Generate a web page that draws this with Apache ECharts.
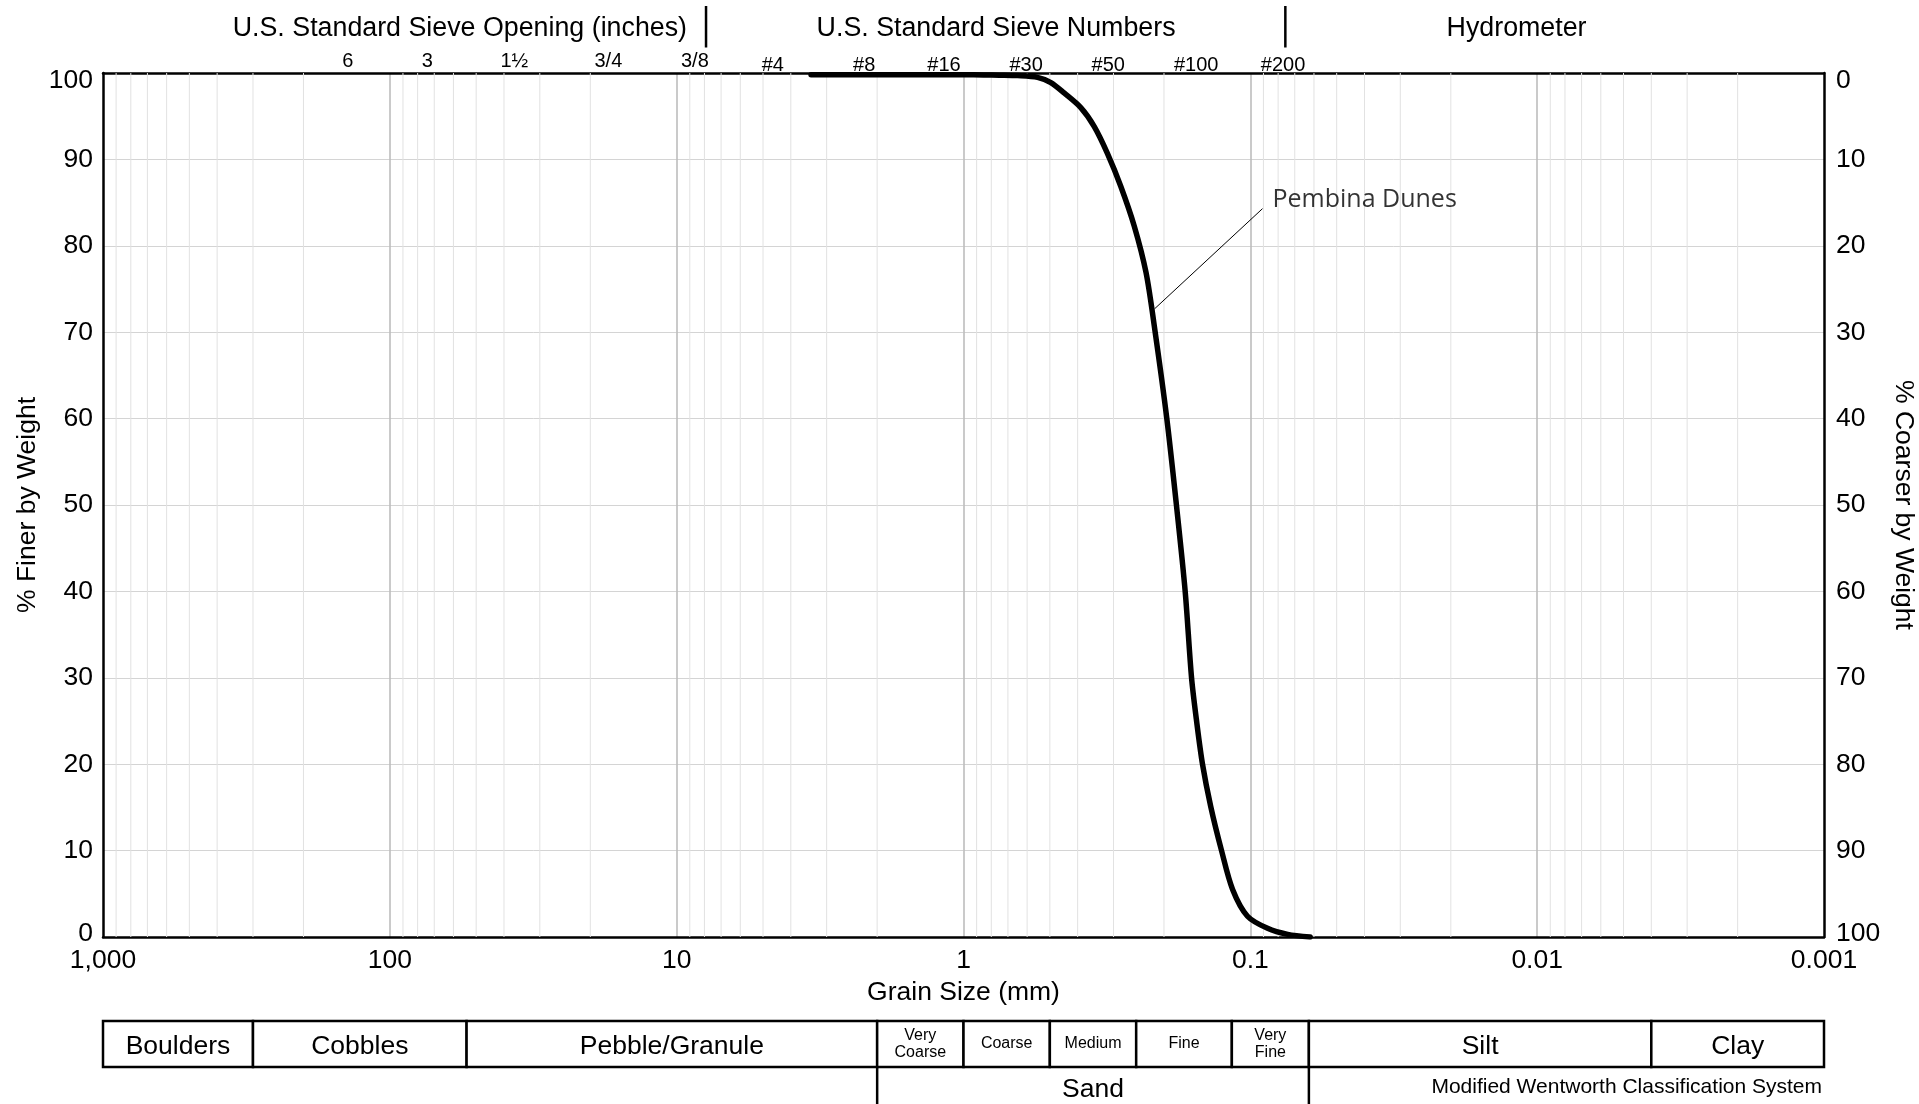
<!DOCTYPE html>
<html><head><meta charset="utf-8">
<script src="https://cdn.jsdelivr.net/npm/echarts@6/dist/echarts.min.js"></script>
<style>html,body{margin:0;padding:0;background:#fff}#c{width:1919px;height:1104px}</style>
</head><body><div id="c"></div>
<script>
// ---- data ----
const grainSizeMm = [3.4, 1.5, 1.0, 0.85, 0.75, 0.648, 0.552, 0.496, 0.446, 0.39, 0.35, 0.315, 0.283, 0.254, 0.231, 0.2153, 0.1955, 0.181, 0.1687, 0.1603, 0.1537, 0.1468, 0.1374, 0.126, 0.1153, 0.1023, 0.0871, 0.0741, 0.0619];
const percentFiner = [99.8, 99.8, 99.8, 99.78, 99.75, 99.7, 99.5, 98.9, 97.7, 96.0, 93.8, 90.7, 86.9, 82.3, 76.9, 70.3, 60, 50, 40, 30, 24.8, 20, 15.1, 10, 5.5, 2.4, 1.0, 0.3, 0];
const seriesName = 'Pembina Dunes';
const leaderLineMm = [0.0907, 0.2158];
const leaderLinePct = [84.3, 72.7];

const xTickLabels = ['1,000', '100', '10', '1', '0.1', '0.01', '0.001'];
const sieveLabels = ['6', '3', '1½', '3/4', '3/8', '#4', '#8', '#16', '#30', '#50', '#100', '#200'];
const sieveLabelMm = [140, 74, 36.8, 17.3, 8.64, 4.62, 2.22, 1.17, 0.605, 0.313, 0.1545, 0.0769];
const headerTitles = ['U.S. Standard Sieve Opening (inches)', 'U.S. Standard Sieve Numbers', 'Hydrometer'];
const headerTitleMm = [57, 0.77, 0.0118];
const headerDividerMm = [7.9, 0.0755];

const classNames = ['Boulders', 'Cobbles', 'Pebble/Granule', 'Very\nCoarse', 'Coarse', 'Medium', 'Fine', 'Very\nFine', 'Silt', 'Clay'];
const classBoundsMm = [1000, 300, 54, 2, 1, 0.5, 0.25, 0.116, 0.0625, 0.004, 0.001];
const sandName = 'Sand';
const sandRangeMm = [2, 0.0625];
const systemNote = 'Modified Wentworth Classification System';

// ---- chart ----
const FONT = '"Liberation Sans", Arial, sans-serif';
const chart = echarts.init(document.getElementById('c'), null, {renderer: 'canvas'});

// minor log gridlines (2..9 x 10^k)
const minorGrid = [];
for (let k = -3; k <= 2; k++) for (let m = 2; m <= 9; m++) minorGrid.push([m * Math.pow(10, k)]);

const curveData = grainSizeMm.map((d, i) => [d, percentFiner[i]]);

const headerItems = [];
headerDividerMm.forEach((v, i) => headerItems.push([v, 0, i]));
headerTitleMm.forEach((v, i) => headerItems.push([v, 1, i]));
sieveLabelMm.forEach((v, i) => headerItems.push([v, i < 5 ? 2 : 3, i]));

const tableItems = [];
classNames.forEach((n, i) => tableItems.push([classBoundsMm[i], classBoundsMm[i + 1], 0, 0, i]));
tableItems.push([sandRangeMm[0], sandRangeMm[1], 1, 1, 0]);
tableItems.push([classBoundsMm[0], classBoundsMm[classBoundsMm.length - 1], 1, 2, 0]);

const logAxisBase = {
  type: 'log', logBase: 10, min: 0.001, max: 1000, inverse: true, splitNumber: 6
};

const yLabelBase = {fontFamily: FONT, fontSize: 26.5, color: '#000', lineHeight: 6, padding: [5, 0, 0, 0]};

const option = {
  animation: false,
  backgroundColor: '#fff',
  grid: [
    {left: 103, right: 95, top: 73, bottom: 167, outerBoundsMode: 'none', containLabel: false},
    {left: 103, right: 95, top: 1021, height: 92, outerBoundsMode: 'none', containLabel: false}
  ],
  xAxis: [
    Object.assign({}, logAxisBase, {
      gridIndex: 0, position: 'bottom',
      name: 'Grain Size (mm)', nameLocation: 'middle', nameGap: 42, nameMoveOverlap: false,
      nameTextStyle: {fontFamily: FONT, fontSize: 26.5, color: '#000'},
      axisLine: {show: true, onZero: false, lineStyle: {color: '#000', width: 2.5}},
      axisTick: {show: false},
      axisLabel: {fontFamily: FONT, fontSize: 26.5, color: '#000', margin: 10,
        formatter: v => xTickLabels[Math.round(3 - Math.log10(v))]},
      splitLine: {show: true, showMinLine: false, showMaxLine: false, lineStyle: {color: '#bdbdbd', width: 1.6}},
      minorTick: {show: false}, minorSplitLine: {show: false}
    }),
    Object.assign({}, logAxisBase, {
      gridIndex: 0, position: 'top',
      axisLine: {show: true, onZero: false, lineStyle: {color: '#000', width: 2.5}},
      axisTick: {show: false}, axisLabel: {show: false}, splitLine: {show: false}
    }),
    Object.assign({}, logAxisBase, {gridIndex: 1, show: false})
  ],
  yAxis: [
    {
      type: 'value', gridIndex: 0, min: 0, max: 100, interval: 10, position: 'left',
      name: '% Finer by Weight', nameLocation: 'middle', nameGap: 62, nameMoveOverlap: false,
      nameTextStyle: {fontFamily: FONT, fontSize: 26.5, color: '#000'},
      axisLine: {show: true, onZero: false, lineStyle: {color: '#000', width: 2.5}},
      axisTick: {show: false},
      axisLabel: Object.assign({}, yLabelBase, {margin: 10, verticalAlignMinLabel: 'bottom', verticalAlignMaxLabel: 'top'}),
      splitLine: {show: true, showMinLine: false, showMaxLine: false, lineStyle: {color: '#d4d4d4', width: 1}}
    },
    {
      type: 'value', gridIndex: 0, min: 0, max: 100, interval: 10, position: 'right', inverse: true,
      name: '% Coarser by Weight', nameLocation: 'middle', nameGap: 66, nameRotate: -90, nameMoveOverlap: false,
      nameTextStyle: {fontFamily: FONT, fontSize: 26.5, color: '#000'},
      axisLine: {show: true, onZero: false, lineStyle: {color: '#000', width: 2.5}},
      axisTick: {show: false},
      axisLabel: Object.assign({}, yLabelBase, {margin: 12, verticalAlignMinLabel: 'top', verticalAlignMaxLabel: 'bottom'}),
      splitLine: {show: false}
    },
    {type: 'value', gridIndex: 1, min: 0, max: 2, inverse: true, show: false}
  ],
  series: [
    {
      type: 'custom', name: 'minorGrid', xAxisIndex: 0, yAxisIndex: 0, silent: true, z: 1,
      data: minorGrid, encode: {x: 0},
      renderItem: (params, api) => {
        const a = api.coord([api.value(0), 0]);
        const b = api.coord([api.value(0), 100]);
        return {type: 'line', shape: {x1: a[0], y1: a[1], x2: b[0], y2: b[1]},
          style: {stroke: '#e2e2e2', lineWidth: 1}};
      }
    },
    {
      type: 'line', name: seriesName, xAxisIndex: 0, yAxisIndex: 0, z: 5,
      data: curveData, smooth: 0.3, showSymbol: false, symbol: 'none',
      lineStyle: {color: '#000', width: 5.5, cap: 'round', join: 'round'}, clip: true
    },
    {
      type: 'line', name: 'leader', xAxisIndex: 0, yAxisIndex: 0, z: 4, silent: true,
      data: leaderLineMm.map((d, i) => [d, leaderLinePct[i]]), symbol: 'none',
      lineStyle: {color: '#000', width: 1}
    },
    {
      type: 'scatter', name: 'leaderText', xAxisIndex: 0, yAxisIndex: 0, z: 6, silent: true,
      data: [[leaderLineMm[0], leaderLinePct[0]]], symbolSize: 0,
      label: {show: true, position: 'right', distance: 10, offset: [0, -9],
        formatter: () => seriesName, fontFamily: '"Open Sans", "Noto Sans", sans-serif', fontSize: 25, color: '#000'}
    },
    {
      type: 'custom', name: 'header', xAxisIndex: 0, yAxisIndex: 0, silent: true, clip: false, z: 6,
      data: headerItems, encode: {x: 0},
      renderItem: (params, api) => {
        const p = api.coord([api.value(0), 100]);
        const kind = api.value(1), idx = api.value(2);
        if (kind === 0) {
          return {type: 'line', shape: {x1: p[0], y1: p[1] - 67, x2: p[0], y2: p[1] - 25.5},
            style: {stroke: '#000', lineWidth: 2.5}};
        }
        if (kind === 1) {
          return {type: 'text', x: p[0], y: p[1] - 44,
            style: {text: headerTitles[idx], font: '26.8px ' + FONT, fill: '#000', align: 'center', verticalAlign: 'middle'}};
        }
        return {type: 'text', x: p[0], y: p[1] - (kind === 2 ? 11.5 : 7.5),
          style: {text: sieveLabels[idx], font: '20px ' + FONT, fill: '#000', align: 'center', verticalAlign: 'middle'}};
      }
    },
    {
      type: 'custom', name: 'classification', xAxisIndex: 2, yAxisIndex: 2, silent: true, clip: false,
      data: tableItems, encode: {x: [0, 1], y: 2},
      renderItem: (params, api) => {
        const x0 = api.value(0), x1 = api.value(1), row = api.value(2), kind = api.value(3), idx = api.value(4);
        const a = api.coord([x0, row]);
        const b = api.coord([x1, row + 1]);
        const cx = (a[0] + b[0]) / 2, cy = (a[1] + b[1]) / 2;
        if (kind === 0) {
          const name = classNames[idx];
          const small = x0 <= sandRangeMm[0] && x1 >= sandRangeMm[1];
          return {type: 'group', children: [
            {type: 'rect', shape: {x: a[0], y: a[1], width: b[0] - a[0], height: b[1] - a[1]},
              style: {fill: '#fff', stroke: '#000', lineWidth: 2.5}},
            {type: 'text', x: cx, y: cy + (small ? 0 : 3),
              style: {text: name, font: (small ? '16px ' : '26.5px ') + FONT, lineHeight: small ? 17 : 26,
                fill: '#000', align: 'center', verticalAlign: 'middle'}}
          ]};
        }
        if (kind === 1) {
          return {type: 'group', children: [
            {type: 'line', shape: {x1: a[0], y1: a[1], x2: a[0], y2: b[1]}, style: {stroke: '#000', lineWidth: 2.5}},
            {type: 'line', shape: {x1: b[0], y1: a[1], x2: b[0], y2: b[1]}, style: {stroke: '#000', lineWidth: 2.5}},
            {type: 'text', x: cx, y: cy,
              style: {text: sandName, font: '26.5px ' + FONT, fill: '#000', align: 'center', verticalAlign: 'middle'}}
          ]};
        }
        return {type: 'text', x: b[0] - 2, y: cy - 3,
          style: {text: systemNote, font: '21px ' + FONT, fill: '#000', align: 'right', verticalAlign: 'middle'}};
      }
    }
  ]
};
chart.setOption(option);
</script>
</body></html>
